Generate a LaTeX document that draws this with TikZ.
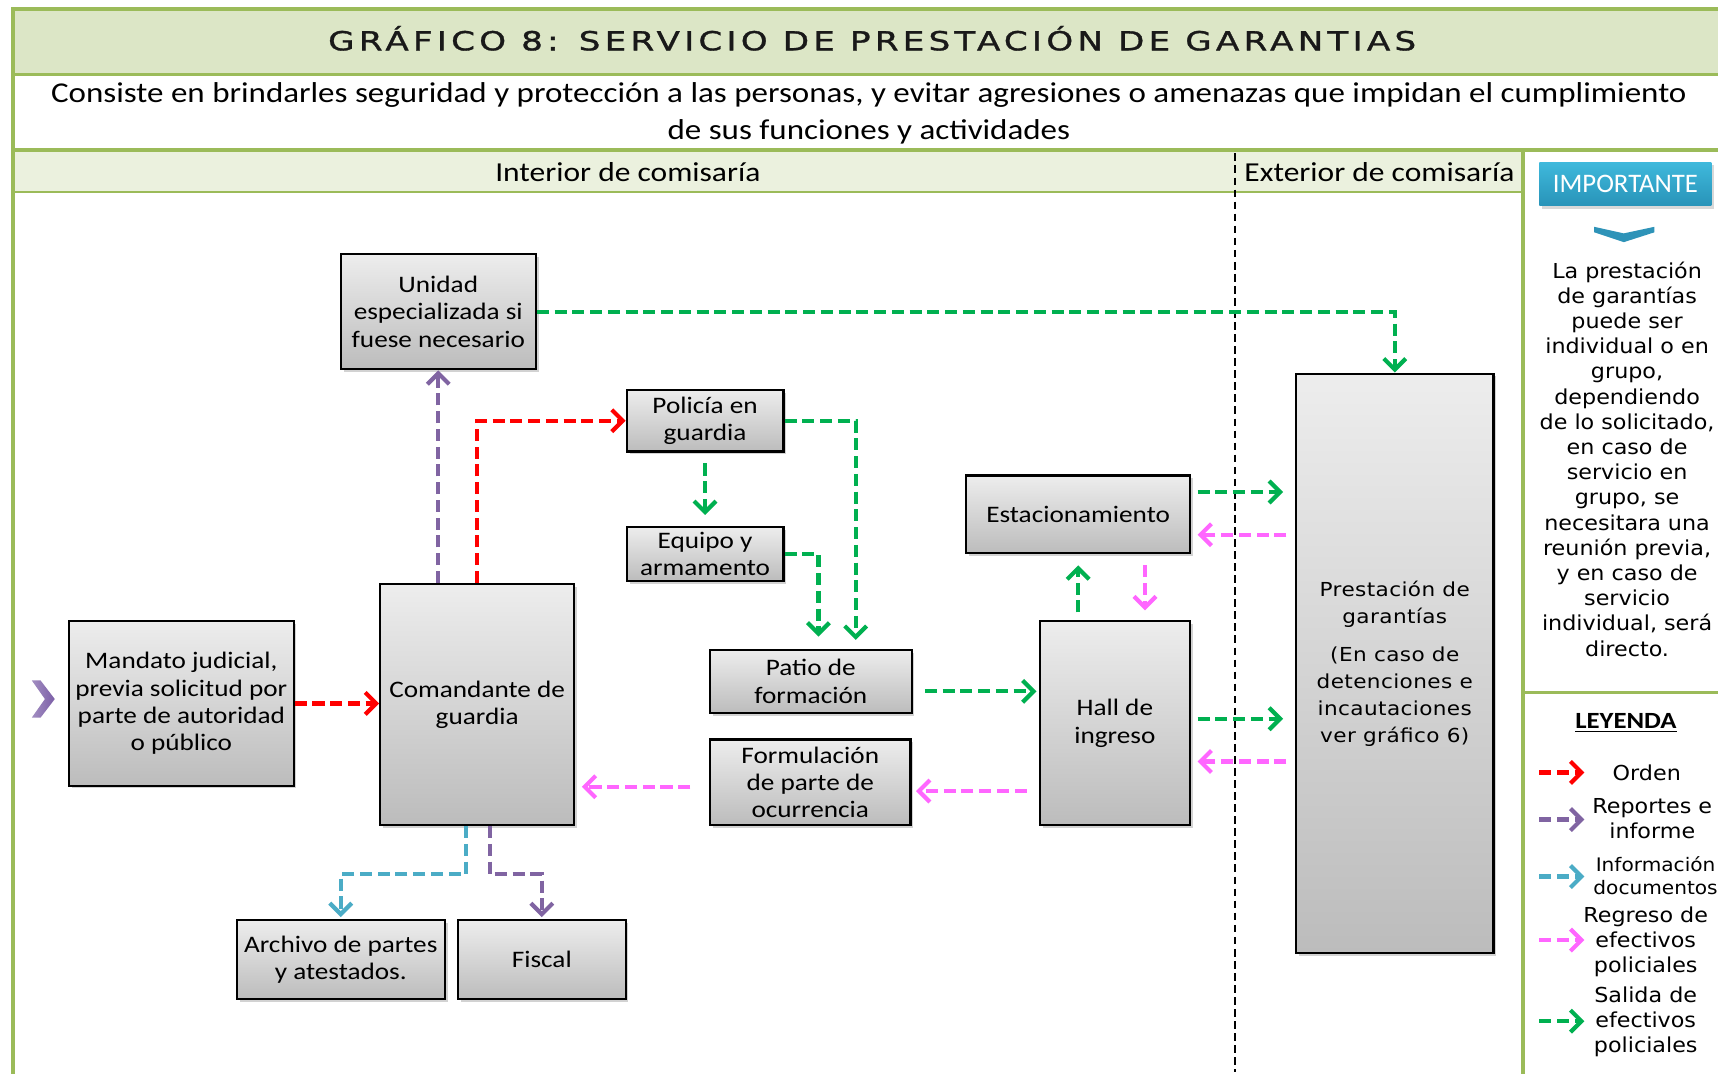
\documentclass[tikz,border=0pt]{standalone}
\usepackage{fontspec}
\setmainfont{Carlito}[FakeStretch=1.15]
\newfontfamily\vfont{DejaVu Sans}[FakeStretch=1.08]
\newfontfamily\pfont{DejaVu Sans}[FakeStretch=1.12,LetterSpace=2]
\newfontfamily\tfont{DejaVu Sans}[FakeStretch=1.3,LetterSpace=16,FakeBold=1.2]
\newfontfamily\cfont{Carlito}
\usetikzlibrary{arrows.meta,shadows,calc}
\definecolor{gborder}{HTML}{9BBB59}
\definecolor{hband}{HTML}{EBF1DE}
\definecolor{tband}{HTML}{DCE6C6}
\definecolor{boxtop}{HTML}{EDEDED}
\definecolor{boxbot}{HTML}{BCBCBC}
\definecolor{cred}{HTML}{FF0000}
\definecolor{cpur}{HTML}{8064A2}
\definecolor{ccya}{HTML}{4BACC6}
\definecolor{cpin}{HTML}{FF66FF}
\definecolor{cgre}{HTML}{00B050}
\definecolor{btop}{HTML}{3FB9DC}
\definecolor{bbot}{HTML}{2893B8}
\definecolor{chev}{HTML}{2E93B8}
\definecolor{pchev}{HTML}{7B5EA7}
\newcommand\mkbox[7]{\node[box,#2,minimum width={(#5-#3)*0.5pt},minimum height={(#6-#4)*0.5pt}] (#1) at ({(#3+#5)/2},{(#4+#6)/2}) {#7};}
\tikzset{
  gline/.style={draw=gborder,line width=1.75pt},
  box/.style={draw=black,line width=1pt,top color=boxtop,bottom color=boxbot,
    drop shadow={opacity=0.35,shadow xshift=1.3pt,shadow yshift=-1.3pt},
    align=center,inner sep=0pt,font=\fontsize{10.8pt}{12.5pt}\selectfont},
  flow/.style={line width=1.9pt,dash pattern=on 5.5pt off 2.6pt,
    -{Straight Barb[length=5pt,width=10pt,line width=1.9pt]}},
  ord/.style={flow,draw=cred},
  rep/.style={flow,draw=cpur},
  inf/.style={flow,draw=ccya},
  reg/.style={flow,draw=cpin},
  sal/.style={flow,draw=cgre},
  legtext/.style={align=center,inner sep=0pt,font=\vfont\fontsize{9.4pt}{11.5pt}\selectfont},
}
\begin{document}
\begin{tikzpicture}[x=0.5pt,y=-0.5pt]
\useasboundingbox (0,0) rectangle (1568,980);
\fill[white] (0,0) rectangle (1568,980);
% bands
\fill[tband] (12,8) rectangle (1572,68);
\fill[hband] (12,137) rectangle (1390,175);
\draw[gline] (12,990) -- (12,8) -- (1572,8);
\draw[gline] (12,68) -- (1572,68);
\draw[gline] (12,137) -- (1572,137);
\draw[draw=gborder,line width=1pt] (12,175) -- (1390,175);
\draw[gline] (1390,137) -- (1390,990);
\draw[gline] (1390,632) -- (1572,632);
% header texts
\node[inner sep=0pt,text=black!90,font=\tfont\fontsize{12pt}{14pt}\selectfont] (title) at (796,35) {GRÁFICO 8: SERVICIO DE PRESTACIÓN DE GARANTIAS};
\node[inner sep=0pt,align=center,font=\fontsize{13.1pt}{16.5pt}\selectfont] (desc) at (793,103.5) {Consiste en brindarles seguridad y protección a las personas, y evitar agresiones o amenazas que impidan el cumplimiento\\de sus funciones y actividades};
\node[inner sep=0pt,font=\fontsize{12.5pt}{14pt}\selectfont] (int) at (573,157) {Interior de comisaría};
\node[inner sep=0pt,font=\fontsize{12.5pt}{14pt}\selectfont] (ext) at (1259,157) {Exterior de comisaría};
\draw[black,line width=1pt,dash pattern=on 3.5pt off 2pt] (1127,140) -- (1127,978);
% important panel
\node[top color=btop,bottom color=bbot,minimum width={157*0.5pt},minimum height={40*0.5pt},inner sep=0pt,
  drop shadow={opacity=0.3,shadow xshift=1pt,shadow yshift=-1.5pt},text=white,
  font=\cfont\fontsize{12.2pt}{13pt}\selectfont] (imp) at (1483.5,168) {IMPORTANTE};
\fill[chev] (1455,207) -- (1482,213) -- (1510,207) -- (1510,212) -- (1482,221) -- (1455,212) -- cycle;
\node[legtext] (note) at (1485,419) {La prestación\\de garantías\\puede ser\\individual o en\\grupo,\\dependiendo\\de lo solicitado,\\en caso de\\servicio en\\grupo, se\\necesitara una\\reunión previa,\\y en caso de\\servicio\\individual, será\\directo.};
% legend
\node[inner sep=0pt,font=\bfseries\fontsize{10.6pt}{12pt}\selectfont] (ley) at (1484,660) {\underline{LEYENDA}};
\coordinate (l1a) at (1405,705); \coordinate (l1b) at (1446,705);
\coordinate (l2a) at (1405,748); \coordinate (l2b) at (1446,748);
\coordinate (l3a) at (1405,800); \coordinate (l3b) at (1446,800);
\coordinate (l4a) at (1405,858); \coordinate (l4b) at (1446,858);
\coordinate (l5a) at (1405,932); \coordinate (l5b) at (1446,932);
\draw[ord] (l1a) -- (l1b);
\draw[rep] (l2a) -- (l2b);
\draw[inf] (l3a) -- (l3b);
\draw[reg] (l4a) -- (l4b);
\draw[sal] (l5a) -- (l5b);
\node[legtext] (t1) at (1503,705) {Orden};
\node[legtext] (t2) at (1508,747.5) {Reportes e\\informe};
\node[legtext,font=\vfont\fontsize{8.5pt}{10.5pt}\selectfont] (t3) at (1511,799.5) {Información\\documentos};
\node[legtext] (t4) at (1502,859.5) {Regreso de\\efectivos\\policiales};
\node[legtext] (t5) at (1502,932.5) {Salida de\\efectivos\\policiales};
% start chevron
\shade[left color=pchev!70,right color=pchev] (29,621) -- (37,621) -- (50,638) -- (37,655) -- (29,655) -- (41,638) -- cycle;
% boxes
\mkbox{uni}{}{311}{232}{489}{337}{Unidad\\especializada si\\fuese necesario}
\mkbox{man}{}{63}{567}{268}{717}{Mandato judicial,\\previa solicitud por\\parte de autoridad\\o público}
\mkbox{com}{}{347}{533}{524}{753}{Comandante de\\guardia}
\mkbox{pol}{}{572}{356}{715}{412}{Policía en\\guardia}
\mkbox{equ}{}{572}{481}{715}{530}{Equipo y\\armamento}
\mkbox{pat}{}{648}{593}{832}{651}{Patio de\\formación}
\mkbox{frm}{}{648}{675}{831}{753}{Formulación\\de parte de\\ocurrencia}
\mkbox{est}{}{882}{434}{1086}{505}{Estacionamiento}
\mkbox{hal}{}{949}{567}{1086}{753}{Hall de\\ingreso}
\mkbox{pre}{font=\pfont\fontsize{8.8pt}{12.25pt}\selectfont}{1183}{341}{1363}{870}{Prestación de\\garantías\\[5.25pt](En caso de\\detenciones e\\incautaciones\\ver gráfico 6)}
\mkbox{arc}{}{216}{840}{406}{912}{Archivo de partes\\y atestados.}
\mkbox{fis}{}{418}{840}{571}{912}{Fiscal}
% connectors
\draw[ord] (man.east) -- (man.east -| com.west);
\draw[ord] (com.north) |- (pol.west);
\draw[rep] (uni.south |- com.north) -- (uni.south);
\draw[sal] (uni.east) -| (pre.north);
\draw[sal,shorten <=5pt,shorten >=5pt] (pol.south) -- (equ.north);
\draw[sal,shorten >=4pt] (pol.east) -| ($(pat.north)+(41,0)$);
\draw[sal,shorten >=5.5pt] (equ.east) -| ($(pat.north)+(7,0)$);
\draw[sal] ($(pat.east)+(11,9)$) -- ($(pat.east -| hal.west)+(-2,9)$);
\draw[reg] ($(frm.east -| hal.west)+(-11,8)$) -- ($(frm.east)+(4,8)$);
\draw[reg] ($(frm.west)+(-17,4)$) -- ($(frm.west -| com.east)+(6,4)$);
\draw[inf] ($(com.south)+(-10.5,0)$) -- ++(0,44) -| ($(arc.north)+(0,-2)$);
\draw[rep] ($(com.south)+(11.5,0)$) -- ++(0,44) -| ($(fis.north)+(0,-2)$);
\draw[sal,shorten <=3.5pt,shorten >=5pt] (est.south |- hal.north) -- (est.south);
\draw[reg,shorten <=5pt,shorten >=4.5pt] ($(est.south)+(61,0)$) -- ($(est.south |- hal.north)+(61,0)$);
\draw[sal] ($(est.east)+(6,-20.5)$) -- ($(est.east -| pre.west)+(-11,-20.5)$);
\draw[reg] ($(est.east -| pre.west)+(-8,18.5)$) -- ($(est.east)+(6,18.5)$);
\draw[sal] ($(hal.east)+(6,-4)$) -- ($(hal.east -| pre.west)+(-11,-4)$);
\draw[reg] ($(hal.east -| pre.west)+(-8,35)$) -- ($(hal.east)+(6,35)$);
\end{tikzpicture}
\end{document}
